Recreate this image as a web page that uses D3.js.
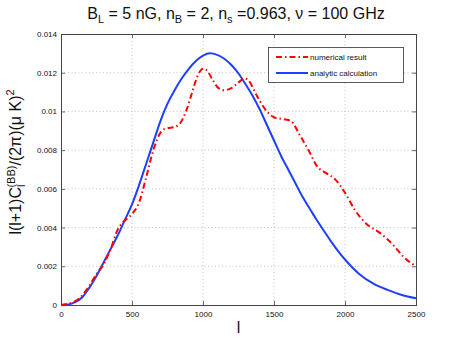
<!DOCTYPE html>
<html><head><meta charset="utf-8">
<script src="https://cdn.jsdelivr.net/npm/d3@7"></script>
<style>body{margin:0;background:#fff}svg{display:block}text{font-family:"Liberation Sans",Arial,sans-serif}</style>
</head><body>
<svg id="c" width="460" height="343"></svg>
<script>
const xTicks = [0, 500, 1000, 1500, 2000, 2500];
const yTicks = [0, 0.002, 0.004, 0.006, 0.008, 0.01, 0.012, 0.014];
const yTickLabels = ["0", "0.002", "0.004", "0.006", "0.008", "0.01", "0.012", "0.014"];
const seriesNames = ["numerical result", "analytic calculation"];
const numL = [0,100,150,200,250,300,350,400,440,500,550,600,650,700,730,800,840,880,920,960,1000,1030,1070,1110,1150,1200,1250,1290,1320,1380,1450,1500,1570,1620,1680,1750,1800,1870,1930,2000,2070,2150,2250,2340,2410,2500];
const numV = [0,0.0002,0.0005,0.001,0.0016,0.0021,0.0029,0.0039,0.0043,0.0047,0.0053,0.0066,0.0080,0.0089,0.0091,0.0092,0.0094,0.0100,0.0109,0.0118,0.0122,0.0121,0.0116,0.0112,0.0111,0.0112,0.0115,0.0117,0.0116,0.0108,0.0100,0.0097,0.0096,0.0095,0.0088,0.0079,0.0072,0.0068,0.0065,0.0058,0.0049,0.0042,0.0037,0.0031,0.0025,0.0020];
const anaL = [0,50,100,150,200,250,300,350,400,450,500,550,600,650,700,750,800,850,900,950,1000,1050,1100,1150,1200,1250,1300,1350,1400,1450,1500,1550,1600,1650,1700,1750,1800,1850,1900,1950,2000,2050,2100,2200,2300,2400,2500];
const anaV = [0,0.00003,0.00015,0.0004,0.0009,0.0015,0.0022,0.0029,0.0036,0.0044,0.0052,0.0062,0.0073,0.0084,0.0095,0.0104,0.0111,0.0117,0.0122,0.0126,0.01288,0.0130,0.01292,0.01272,0.0124,0.01196,0.0114,0.0108,0.0101,0.0093,0.0085,0.0077,0.0070,0.0063,0.0056,0.0050,0.0044,0.00385,0.0033,0.0028,0.00235,0.00195,0.0016,0.0011,0.00078,0.00052,0.00035];

const svg = d3.select("#c");
const L = 61, R = 416, T = 34, B = 305;
const x = d3.scaleLinear().domain([0, 2500]).range([L, R]);
const y = d3.scaleLinear().domain([0, 0.014]).range([B, T]);

// grid
const g = svg.append("g");
xTicks.slice(1, -1).forEach(t => g.append("line").attr("x1", x(t)).attr("x2", x(t)).attr("y1", T).attr("y2", B)
  .attr("stroke", "#b8b8b8").attr("stroke-width", 0.8).attr("stroke-dasharray", "1,2.5"));
yTicks.slice(1, -1).forEach(t => g.append("line").attr("x1", L).attr("x2", R).attr("y1", y(t)).attr("y2", y(t))
  .attr("stroke", "#b8b8b8").attr("stroke-width", 0.8).attr("stroke-dasharray", "1,2.5"));

// axes
const xa = svg.append("g").attr("transform", `translate(0,${B})`)
  .call(d3.axisBottom(x).tickValues(xTicks).tickSize(-4).tickPadding(6).tickFormat(d3.format("d")));
const xt = svg.append("g").attr("transform", `translate(0,${T})`)
  .call(d3.axisTop(x).tickValues(xTicks).tickSize(-4).tickFormat(""));
const ya = svg.append("g").attr("transform", `translate(${L},0)`)
  .call(d3.axisLeft(y).tickValues(yTicks).tickSize(-4).tickPadding(4).tickFormat((d, i) => yTickLabels[i]));
const yr = svg.append("g").attr("transform", `translate(${R},0)`)
  .call(d3.axisRight(y).tickValues(yTicks).tickSize(-4).tickFormat(""));
[xa, xt, ya, yr].forEach(a => {
  a.selectAll("path").attr("stroke", "#444").attr("stroke-width", 1);
  a.selectAll("line").attr("stroke", "#444").attr("stroke-width", 0.8);
  a.selectAll("text").attr("font-size", 8).attr("fill", "#111").attr("font-family", "Liberation Sans, Arial, sans-serif");
});

const line = d3.line().x(d => x(d[0])).y(d => y(d[1])).curve(d3.curveMonotoneX);
const ana = anaL.map((l, i) => [l, anaV[i]]);
const num = numL.map((l, i) => [l, numV[i]]);
svg.append("path").datum(ana).attr("d", line).attr("fill", "none").attr("stroke", "#1f3fff").attr("stroke-width", 2);
svg.append("path").datum(num).attr("d", line).attr("fill", "none").attr("stroke", "#ff0000").attr("stroke-width", 2)
  .attr("stroke-dasharray", "6,3,1.5,3");

// legend
const lg = svg.append("g");
lg.append("rect").attr("x", 268.5).attr("y", 47.5).attr("width", 135).attr("height", 35)
  .attr("fill", "#fff").attr("stroke", "#333").attr("stroke-width", 0.8);
lg.append("line").attr("x1", 276).attr("x2", 308).attr("y1", 57).attr("y2", 57)
  .attr("stroke", "#ff0000").attr("stroke-width", 2).attr("stroke-dasharray", "6,3,1.5,3");
lg.append("line").attr("x1", 276).attr("x2", 308).attr("y1", 73).attr("y2", 73)
  .attr("stroke", "#1f3fff").attr("stroke-width", 2);
lg.append("text").attr("x", 310).attr("y", 60).attr("font-size", 8).attr("fill", "#111").text(seriesNames[0]);
lg.append("text").attr("x", 310).attr("y", 76).attr("font-size", 8).attr("fill", "#111").text(seriesNames[1]);

// title
const title = svg.append("text").attr("x", 236).attr("y", 19).attr("text-anchor", "middle")
  .attr("font-size", 16).attr("fill", "#111");
title.append("tspan").text("B");
title.append("tspan").attr("dy", 4).attr("font-size", 11).text("L");
title.append("tspan").attr("dy", -4).text(" = 5 nG, n");
title.append("tspan").attr("dy", 4).attr("font-size", 11).text("B");
title.append("tspan").attr("dy", -4).text(" = 2, n");
title.append("tspan").attr("dy", 4).attr("font-size", 11).text("s");
title.append("tspan").attr("dy", -4).text(" =0.963, \u03bd = 100 GHz");

// x label
svg.append("text").attr("x", 238.5).attr("y", 333).attr("text-anchor", "middle").attr("font-size", 16).attr("fill", "#111").text("l");

// y label
const yl = svg.append("text").attr("transform", "translate(21,162) rotate(-90)").attr("text-anchor", "middle")
  .attr("font-size", 16).attr("fill", "#111");
yl.append("tspan").text("l(l+1)C");
yl.append("tspan").attr("dy", 4).attr("font-size", 11).text("l");
yl.append("tspan").attr("dy", -10).attr("dx", -3).attr("font-size", 11).text("(BB)");
yl.append("tspan").attr("dy", 6).text("/(2\u03c0)(\u03bc K)");
yl.append("tspan").attr("dy", -7).attr("font-size", 11).text("2");
</script>
</body></html>
